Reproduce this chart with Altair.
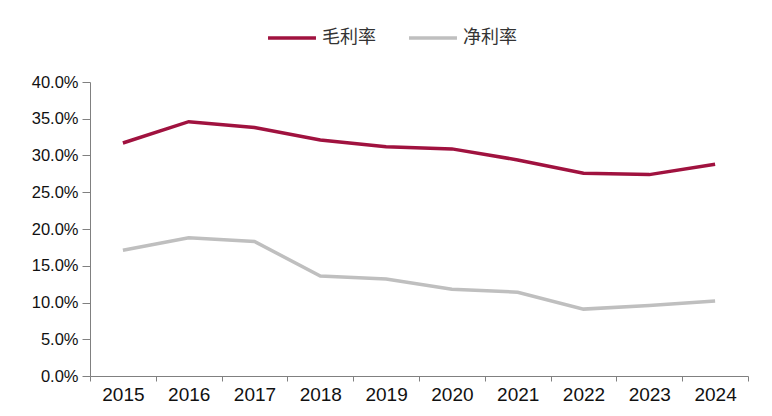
import altair as alt
import pandas as pd

years = ["2015", "2016", "2017", "2018", "2019", "2020", "2021", "2022", "2023", "2024"]
gross_margin = [0.317, 0.346, 0.338, 0.321, 0.312, 0.309, 0.294, 0.276, 0.274, 0.288]
net_margin = [0.171, 0.188, 0.183, 0.136, 0.132, 0.118, 0.114, 0.091, 0.096, 0.102]
series_names = ["毛利率", "净利率"]
series_colors = ["#A0123F", "#BFBFBF"]

data = pd.DataFrame({
    "year": years * 2,
    "value": gross_margin + net_margin,
    "series": [series_names[0]] * len(years) + [series_names[1]] * len(years),
})

chart = alt.Chart(data).mark_line(strokeWidth=3.5).encode(
    alt.X("year:O", bandPosition=0.5,
          scale=alt.Scale(type="band", paddingInner=0, paddingOuter=0),
          axis=alt.Axis(title=None, labelAngle=0, tickBand="extent", tickSize=5,
                        labelFontSize=19, labelPadding=4, labelColor="#111",
                        domainColor="#808080", tickColor="#808080",
                        labelFont="Liberation Sans")),
    alt.Y("value:Q", scale=alt.Scale(domain=[0, 0.4], nice=False),
          axis=alt.Axis(title=None, format=".1%", values=[i * 0.05 for i in range(9)],
                        tickSize=8, labelFontSize=16.5, labelPadding=4, labelColor="#111",
                        domainColor="#808080", tickColor="#808080", grid=False,
                        labelFont="Liberation Sans")),
    color=alt.Color("series:N",
                    scale=alt.Scale(domain=series_names, range=series_colors),
                    legend=alt.Legend(title=None, orient="none", direction="horizontal",
                                      legendX=176, legendY=-70,
                                      symbolType="stroke", symbolSize=2300,
                                      symbolStrokeWidth=3.5, labelFontSize=18,
                                      labelFont="Noto Sans CJK SC", labelColor="#333",
                                      labelOffset=4, columnPadding=26)),
).properties(
    width=658,
    height=294,
    autosize=alt.AutoSizeParams(type="none"),
    padding={"left": 82, "top": 74, "right": 16, "bottom": 30},
    background="white",
).configure_view(
    strokeWidth=0,
)

chart.save("out.html", embed_options={"renderer": "svg", "actions": False})
